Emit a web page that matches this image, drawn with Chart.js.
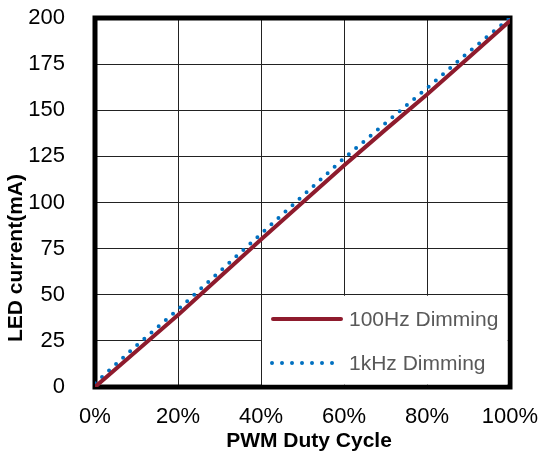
<!DOCTYPE html>
<html>
<head>
<meta charset="utf-8">
<script src="https://cdn.jsdelivr.net/npm/chart.js@4"></script>
<style>
html,body{margin:0;padding:0;background:#fff;}
#wrap{width:542px;height:459px;position:relative;}
</style>
</head>
<body>
<div id="wrap"><canvas id="c" width="542" height="459"></canvas></div>
<script>
const dutyCycle = [0, 10, 20, 30, 40, 50, 60, 70, 80, 90, 100];
const led100Hz = [0, 19.5, 39, 59.5, 80, 100, 120, 139.5, 158.5, 178.5, 198.5];
const led1kHz  = [2, 22.5, 42, 62.5, 83, 103.5, 124, 143, 162, 181.5, 200];
const seriesNames = ['100Hz Dimming', '1kHz Dimming'];
const xTicks = [0, 20, 40, 60, 80, 100];
const yTicks = [0, 25, 50, 75, 100, 125, 150, 175, 200];
const xTitle = 'PWM Duty Cycle';
const yTitle = 'LED current(mA)';

const RED = '#8E1B2D';
const BLUE = '#0070C0';

function pts(xs, ys){ return xs.map((x,i)=>({x:x, y:ys[i]})); }

const framePlugin = {
  id:'frame',
  beforeDatasetsDraw(chart){
    const a = chart.chartArea, ctx = chart.ctx;
    ctx.save();
    ctx.strokeStyle = '#000';
    ctx.lineWidth = 5;
    ctx.lineJoin = 'miter';
    ctx.strokeRect(a.left, a.top, a.right - a.left, a.bottom - a.top);
    // legend box
    const xs = chart.scales.x, ys = chart.scales.y;
    const lx = xs.getPixelForValue(40) + 1, ty = ys.getPixelForValue(50) + 1;
    ctx.fillStyle = '#fff';
    ctx.fillRect(lx, ty, a.right - 2.5 - lx, a.bottom - 2.5 - ty);
    // legend items
    ctx.font = '21px "Liberation Sans", Arial, sans-serif';
    ctx.textBaseline = 'middle';
    ctx.textAlign = 'left';
    ctx.fillStyle = '#595959';
    const y1 = 319, y2 = 363;
    ctx.lineCap = 'round';
    ctx.strokeStyle = RED; ctx.lineWidth = 4; ctx.setLineDash([]);
    ctx.beginPath(); ctx.moveTo(273, y1); ctx.lineTo(341, y1); ctx.stroke();
    ctx.fillText(seriesNames[0], 349, y1 + 1);
    ctx.strokeStyle = BLUE; ctx.setLineDash([0, 10]);
    ctx.beginPath(); ctx.moveTo(272, y2); ctx.lineTo(333, y2); ctx.stroke();
    ctx.setLineDash([]);
    ctx.fillText(seriesNames[1], 349, y2 + 1);
    ctx.restore();
  },
  afterDraw(chart){
    const ctx = chart.ctx;
    ctx.save();
    ctx.fillStyle = '#000';
    ctx.font = 'bold 21px "Liberation Sans", Arial, sans-serif';
    ctx.textAlign = 'center';
    ctx.textBaseline = 'middle';
    ctx.fillText(xTitle, 309, 441);
    ctx.translate(16, 258);
    ctx.rotate(-Math.PI/2);
    ctx.fillText(yTitle, 0, 0);
    ctx.restore();
  }
};

function zeroPad(s){ s.paddingTop = 0; s.paddingBottom = 0; s.paddingLeft = 0; s.paddingRight = 0; }

new Chart(document.getElementById('c'), {
  type:'line',
  data:{
    datasets:[
      { label: seriesNames[0], data: pts(dutyCycle, led100Hz), borderColor: RED, borderWidth: 4,
        pointRadius: 0, tension: 0, borderCapStyle:'round', fill:false },
      { label: seriesNames[1], data: pts(dutyCycle, led1kHz), borderColor: BLUE, borderWidth: 4,
        pointRadius: 0, tension: 0, borderCapStyle:'round', borderDash:[0, 9.5], fill:false }
    ]
  },
  options:{
    responsive:false,
    animation:false,
    devicePixelRatio:1,
    layout:{ padding:{ left:0, right:32, top:18, bottom:0 } },
    plugins:{ legend:{display:false}, tooltip:{enabled:false}, title:{display:false} },
    scales:{
      x:{
        type:'linear', min:0, max:100,
        afterBuildTicks(s){ s.ticks = xTicks.map(v=>({value:v})); },
        afterFit(s){ s.height = 72; zeroPad(s); },
        grid:{ color:'#222', lineWidth:1, drawTicks:false },
        border:{ display:false },
        ticks:{ padding:17, maxRotation:0, color:'#000', font:{ family:'"Liberation Sans", Arial, sans-serif', size:22 },
          callback:(v)=> v + '%' }
      },
      y:{
        type:'linear', min:0, max:200,
        afterBuildTicks(s){ s.ticks = yTicks.map(v=>({value:v})); },
        afterFit(s){ s.width = 95; zeroPad(s); },
        grid:{ color:'#222', lineWidth:1, drawTicks:false },
        border:{ display:false },
        ticks:{ padding:30, color:'#000', font:{ family:'"Liberation Sans", Arial, sans-serif', size:22 } }
      }
    }
  },
  plugins:[framePlugin]
});
</script>
</body>
</html>
